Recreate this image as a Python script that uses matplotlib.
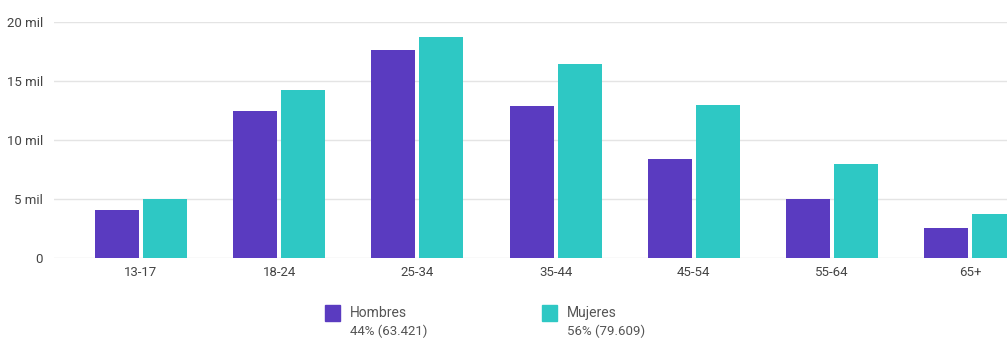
import matplotlib
matplotlib.use("Agg")
import matplotlib.pyplot as plt
from matplotlib.patches import Rectangle
import numpy as np

plt.rcParams['font.family'] = ['Roboto', 'DejaVu Sans']

categories = ['13-17', '18-24', '25-34', '35-44', '45-54', '55-64', '65+']
hombres = [4100, 12500, 17650, 12900, 8400, 5000, 2550]
mujeres = [5000, 14250, 18750, 16450, 13000, 8000, 3750]
yticks = [0, 5000, 10000, 15000, 20000]
ytick_labels = ['0', '5 mil', '10 mil', '15 mil', '20 mil']
legend_names = ['Hombres', 'Mujeres']
legend_values = ['44% (63.421)', '56% (79.609)']

c_h = '#5a3bc0'
c_m = '#2ec8c4'
text_c = '#444444'

W, H = 1007, 354
fig = plt.figure(figsize=(W / 100, H / 100), dpi=100)
left_px, right_px = 54, 1050
top_px, bottom_px = 22, 258
ax = fig.add_axes([left_px / W, (H - bottom_px) / H,
                   (right_px - left_px) / W, (bottom_px - top_px) / H])

x = np.arange(len(categories))
scale = 138.2
xmin = -(141 - left_px) / scale
xmax = xmin + (right_px - left_px) / scale
bw = 44 / scale
gap = 4 / scale
ax.bar(x - bw / 2 - gap / 2, hombres, width=bw, color=c_h, zorder=3)
ax.bar(x + bw / 2 + gap / 2, mujeres, width=bw, color=c_m, zorder=3)

ax.set_xlim(xmin, xmax)
ax.set_ylim(0, 20000)
ax.set_yticks(yticks)
ax.set_yticklabels(ytick_labels)
ax.set_xticks(x)
ax.set_xticklabels(categories)
ax.tick_params(axis='both', length=0, labelsize=9.5, colors=text_c)
ax.tick_params(axis='y', pad=8)
ax.tick_params(axis='x', pad=6)
ax.grid(axis='y', color='#e4e4e4', linewidth=1, zorder=0)
for s in ax.spines.values():
    s.set_visible(False)

# legend
sq = 15
for i, (name, val) in enumerate(zip(legend_names, legend_values)):
    sx = 325 + i * 217
    col = c_h if i == 0 else c_m
    fig.patches.append(Rectangle((sx / W, (H - 321) / H), sq / W, (sq + 1) / H,
                                 transform=fig.transFigure, color=col))
    fig.text((sx + 25) / W, (H - 313) / H, name, fontsize=10, color='#555555',
             va='center', ha='left')
    fig.text((sx + 25) / W, (H - 331) / H, val, fontsize=9.5, color='#555555',
             va='center', ha='left')

fig.savefig('out.png', dpi=100, facecolor='white')
